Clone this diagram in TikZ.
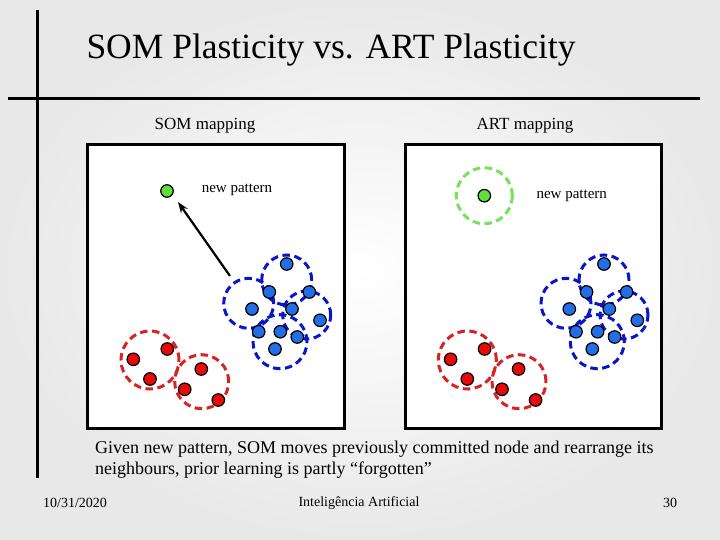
\documentclass[tikz,border=0pt]{standalone}
\usepackage{fontspec}
\setmainfont{Liberation Serif}
\usetikzlibrary{arrows.meta}
\definecolor{dotblue}{RGB}{35,110,230}
\definecolor{ringblue}{RGB}{10,20,200}
\definecolor{dotred}{RGB}{230,10,10}
\definecolor{ringred}{RGB}{215,35,35}
\definecolor{dotgreen}{RGB}{100,220,60}
\definecolor{ringgreen}{RGB}{120,225,90}
\tikzset{
  ring/.style={line width=3pt,dash pattern=on 7.5pt off 4.5pt},
  dot/.style={circle,draw=black,line width=1.2pt,inner sep=0pt,minimum size=12.5pt},
  bdot/.style={dot,fill=dotblue},
  rdot/.style={dot,fill=dotred},
  gdot/.style={dot,fill=dotgreen},
  panel/.style={draw=black,line width=3pt,fill=white},
  rule/.style={line width=3pt,draw=black},
  txt/.style={inner sep=0pt,font=\fontsize{15}{18}\selectfont},
}
\newcommand{\clusters}[2]{%
  \begin{scope}[shift={(#1,0)}]
    \draw[ring,ringblue] (248.7,303.3) circle (25pt);
    \draw[ring,ringblue] (286.7,280) circle (25pt);
    \draw[ring,ringblue] (306.7,315) circle (24pt);
    \draw[ring,ringblue] (280,341.7) circle (27pt);
    \draw[ring,ringred] (150,360) circle (29pt);
    \draw[ring,ringred] (201.7,381.7) circle (27pt);
    \foreach \p [count=\i] in {(286.7,264),(269.3,292),(309.3,292),(252,309),(292,309),(320,320.3),(258.7,331.7),(280.3,331.7),(297.3,337),(275,349)}
      \node[bdot] (#2b\i) at \p {};
    \foreach \p [count=\i] in {(133.3,359.3),(167.3,349),(150,379),(201.3,369),(184.7,389.3),(218.3,400)}
      \node[rdot] (#2r\i) at \p {};
  \end{scope}}
\begin{document}
\begin{tikzpicture}[x=1pt,y=-1pt]
\shade[inner color=white,outer color=gray!18] (0,0) rectangle (720,540);
\useasboundingbox (0,0) rectangle (720,540);
\coordinate (vt) at (37,10); \coordinate (vb) at (37,478);
\coordinate (hl) at (8,99); \coordinate (hr) at (700,99);
\draw[rule] (vt) -- (vb);
\draw[rule] (hl) -- (hr);
\node[inner sep=0pt,font=\fontsize{35.5}{40}\selectfont] (title) at (331,50) {SOM Plasticity vs. ART Plasticity};
\node[inner sep=0pt,font=\fontsize{17}{20}\selectfont] (lsom) at (205,126) {SOM mapping};
\node[inner sep=0pt,font=\fontsize{17}{20}\selectfont] (lart) at (525,126) {ART mapping};
\draw[panel] (87,145) rectangle (344,428);
\draw[panel] (405,145) rectangle (661,428);
% left panel
\clusters{0}{L}
\node[gdot] (g1) at (167,191) {};
\node[txt] (np1) at (237,190) {new pattern};
\coordinate (a1) at (230,276);
\draw[line width=2.2pt,-{Stealth[length=11pt,width=8pt]}] (a1) -- (178,202);
% right panel
\clusters{317.3}{R}
\draw[ring,ringgreen] (484.3,195.7) circle (28pt);
\node[gdot] (g2) at (484.3,195.7) {};
\node[txt] (np2) at (571.7,195.7) {new pattern};
% caption
\node[anchor=north west,align=left,inner sep=0pt,font=\fontsize{18}{21}\selectfont] (cap) at (95,441) {Given new pattern, SOM moves previously committed node and rearrange its\\neighbours, prior learning is partly \textquotedblleft forgotten\textquotedblright};
\node[inner sep=0pt,font=\fontsize{14}{16}\selectfont] (date) at (75,503) {10/31/2020};
\node[inner sep=0pt,font=\fontsize{14}{16}\selectfont] (ia) at (359,503) {Inteligência Artificial};
\node[inner sep=0pt,font=\fontsize{14}{16}\selectfont] (pg) at (670,503) {30};
\end{tikzpicture}
\end{document}
